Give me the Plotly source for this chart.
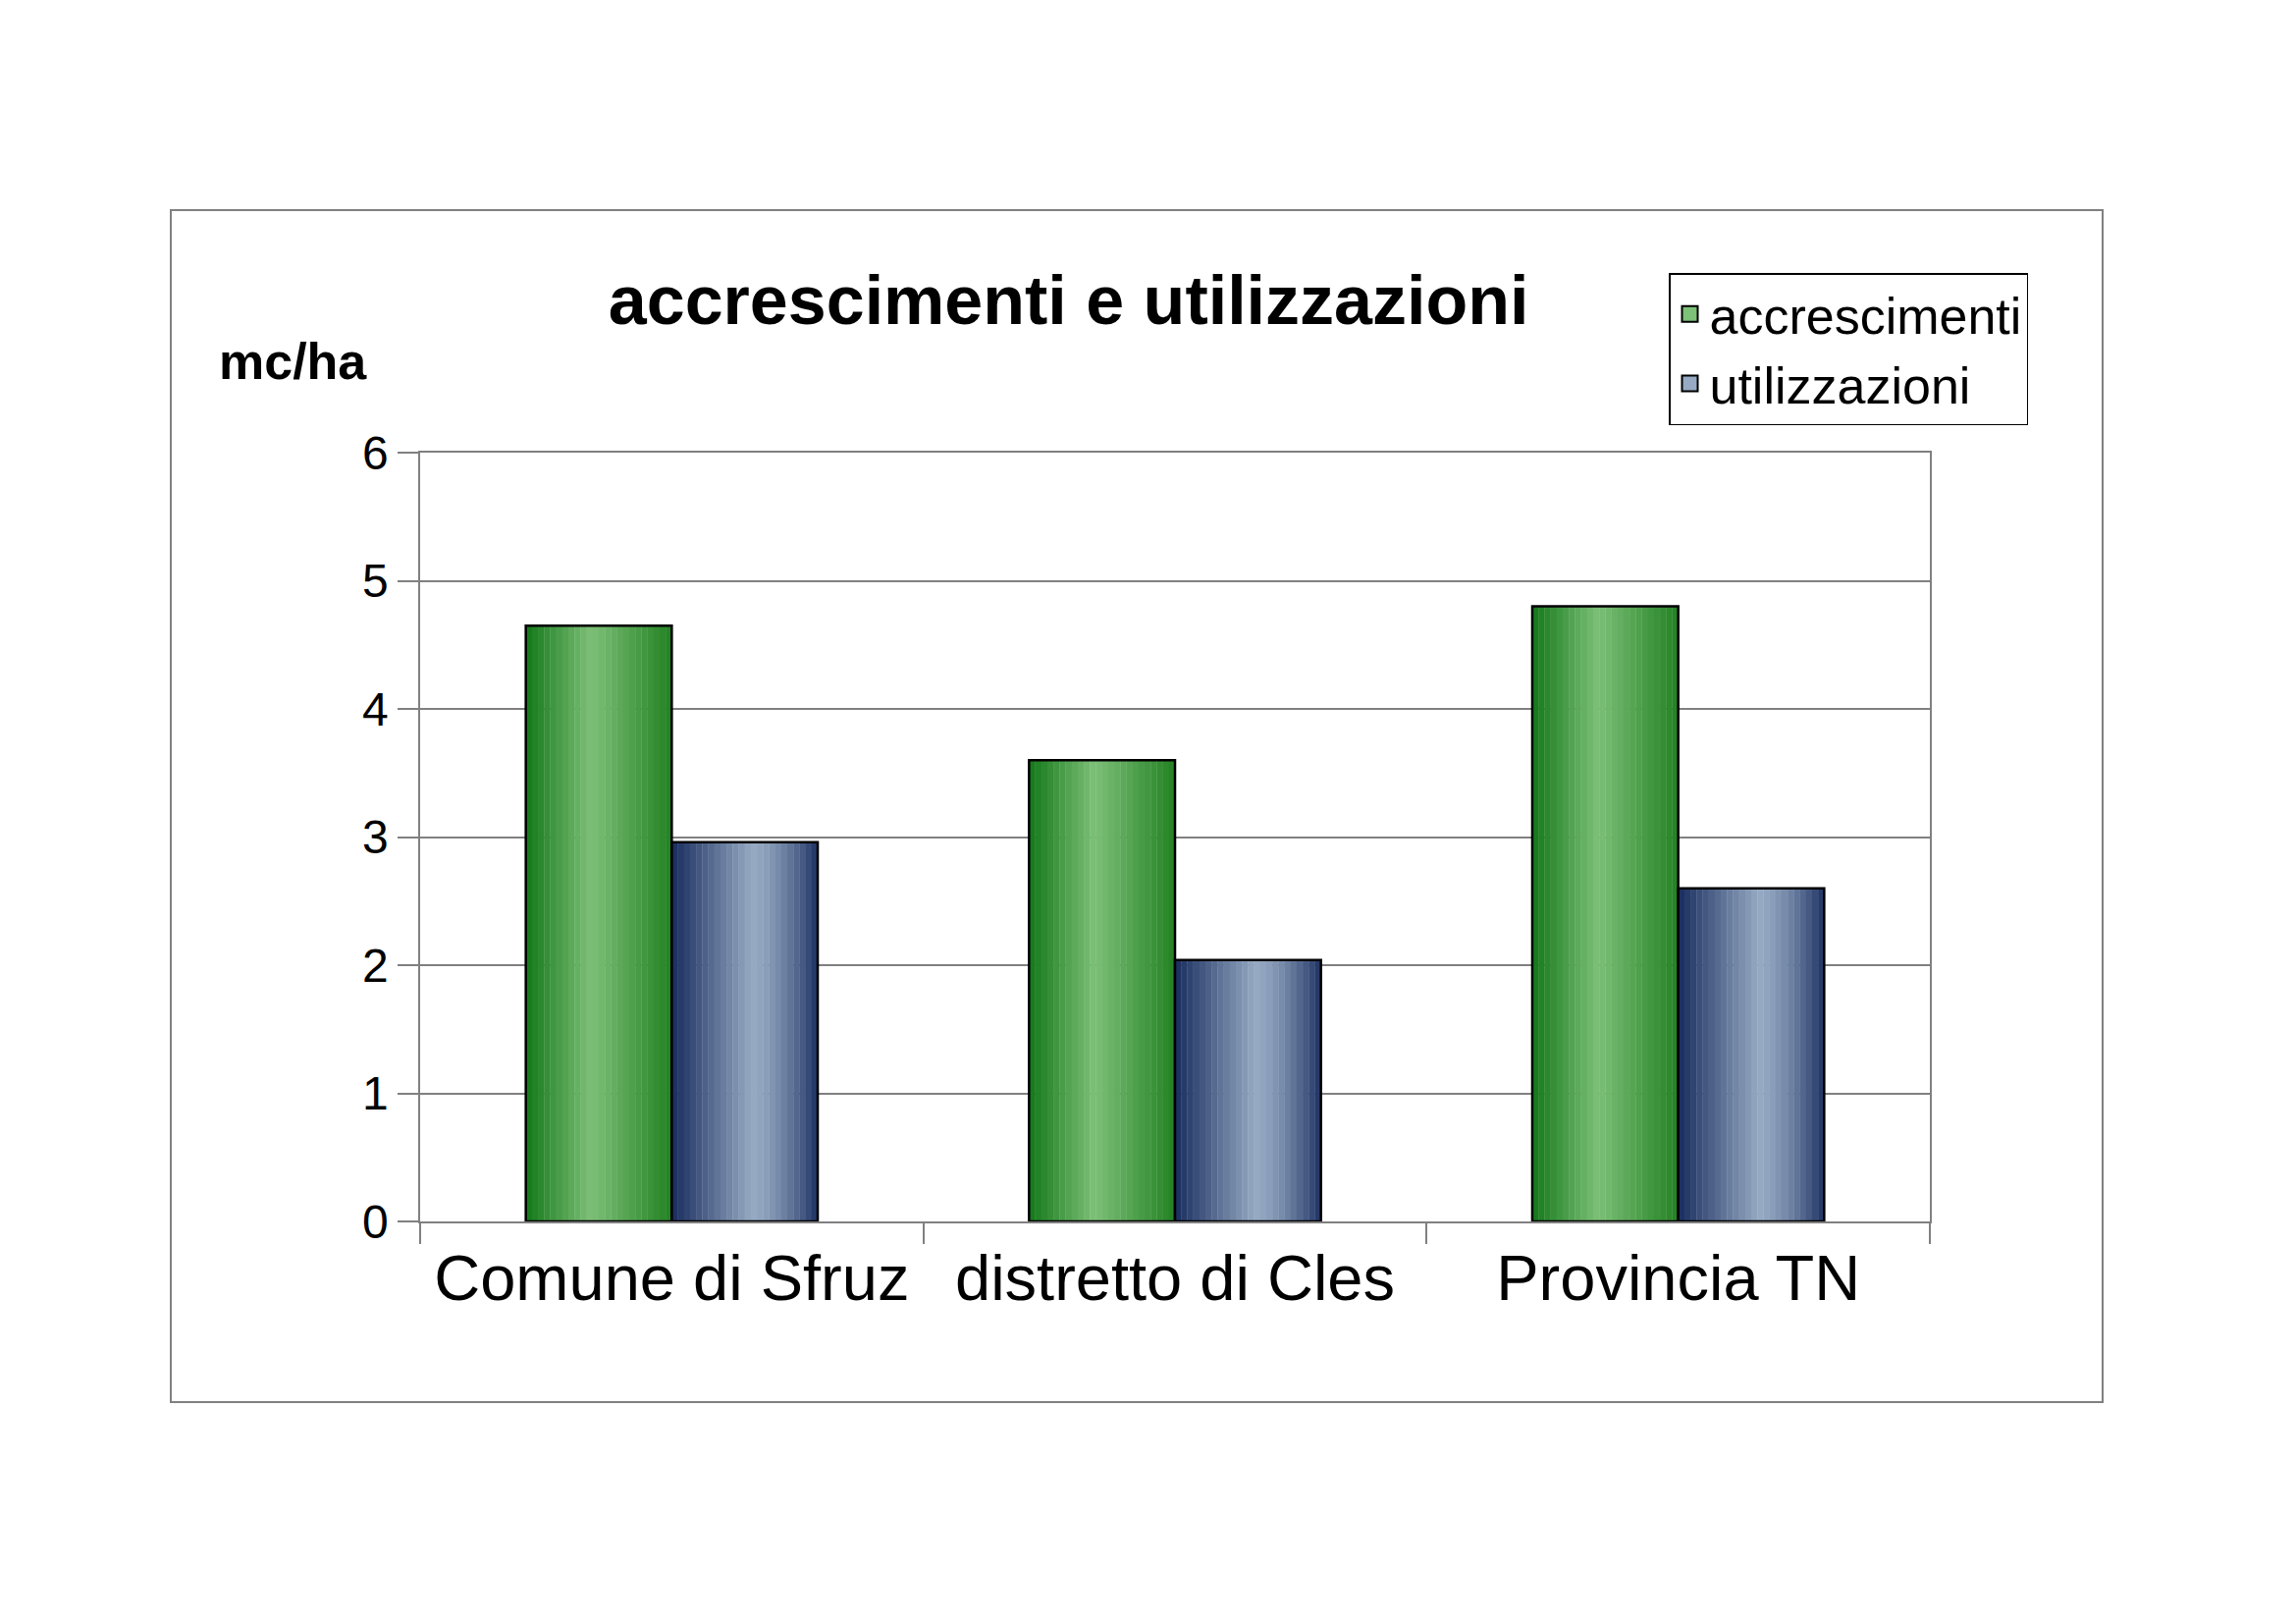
import plotly.graph_objects as go

categories = ["Comune di Sfruz", "distretto di Cles", "Provincia TN"]
accrescimenti = [4.65, 3.6, 4.8]
utilizzazioni = [2.96, 2.04, 2.6]
series_names = ["accrescimenti", "utilizzazioni"]

W, H = 2339, 1654
L, R, T, B = 420, 381, 453, 418
PW, PH = W - L - R, H - T - B
BAR_W = 0.29
N = 24  # strips per bar to fake the gradient fill


def lerp(c1, c2, t):
    return "rgb(%d,%d,%d)" % tuple(int(a + (b - a) * t) for a, b in zip(c1, c2))


def green_at(t):
    dark, light = (20, 120, 25), (125, 192, 120)
    if t < 0.45:
        return lerp(dark, light, t / 0.45)
    return lerp(light, (35, 130, 35), (t - 0.45) / 0.55)


def blue_at(t):
    dark, light = (25, 45, 95), (150, 170, 195)
    if t < 0.55:
        return lerp(dark, light, t / 0.55)
    return lerp(light, (30, 50, 100), ((t - 0.55) / 0.45) ** 1.5)


def px_x(x):
    return (x - L) / PW


def px_y(y):
    return 1 - (y - T) / PH


fig = go.Figure()
for values, base, color_fn in [(accrescimenti, -BAR_W, green_at),
                               (utilizzazioni, 0.0, blue_at)]:
    sw = BAR_W / N
    for i in range(N):
        fig.add_trace(go.Bar(
            x=categories, y=values, width=sw * 1.05, offset=base + i * sw,
            marker=dict(color=color_fn((i + 0.5) / N), line_width=0),
            showlegend=False, hoverinfo="skip",
        ))
    fig.add_trace(go.Bar(
        x=categories, y=values, width=BAR_W, offset=base,
        marker=dict(color="rgba(0,0,0,0)", line=dict(color="black", width=2.5)),
        showlegend=False,
    ))

for name, col in zip(series_names, [green_at(0.45), blue_at(0.55)]):
    fig.add_trace(go.Scatter(
        x=[None], y=[None], name=name, mode="markers",
        marker=dict(symbol="square", size=30, color=col,
                    line=dict(color="black", width=2)),
    ))

fig.update_layout(
    width=W, height=H,
    barmode="overlay",
    paper_bgcolor="white", plot_bgcolor="white",
    font=dict(family="Arial, Liberation Sans", color="black"),
    margin=dict(l=L, r=R, t=T, b=B),
    title=dict(text="<b>accrescimenti e utilizzazioni</b>", x=0.462, xanchor="center",
               y=1 - 297 / H, yanchor="middle", font=dict(size=70)),
    xaxis=dict(type="category", tickson="boundaries", ticks="outside", ticklen=21,
               tickwidth=1.5, tickcolor="#808080", showline=True, linecolor="#808080",
               linewidth=1.5, mirror=True, showgrid=False,
               tickfont=dict(size=65), range=[-0.5, 2.5]),
    yaxis=dict(range=[0, 6], dtick=1, ticks="outside", ticklen=21, tickwidth=1.5,
               tickcolor="#808080", showline=True, linecolor="#808080", linewidth=1.5,
               mirror=True, gridcolor="#808080", gridwidth=1.5, zeroline=False,
               tickfont=dict(size=48)),
    legend=dict(x=px_x(1692), y=px_y(270), xanchor="left", yanchor="top",
                bordercolor="black", borderwidth=1.5,
                font=dict(size=52), tracegroupgap=0, itemwidth=30),
    shapes=[dict(type="rect", xref="paper", yref="paper",
                 x0=px_x(166), x1=px_x(2134), y0=px_y(1420), y1=px_y(206),
                 line=dict(color="#808080", width=2))],
    annotations=[dict(text="<b>mc/ha</b>", xref="paper", yref="paper",
                      x=px_x(213), y=px_y(360), xanchor="left", yanchor="middle",
                      showarrow=False, font=dict(size=52))],
)

fig.write_html("out.html")
